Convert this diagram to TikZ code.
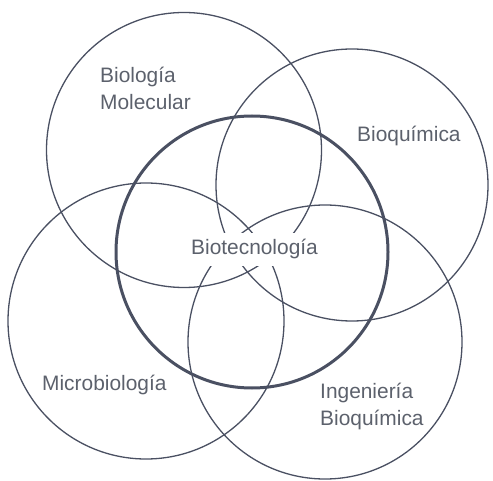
\documentclass[tikz,border=0pt]{standalone}
\usepackage{fontspec}
\setmainfont{Liberation Sans}
\definecolor{linec}{HTML}{4A5062}
\definecolor{textc}{HTML}{5C616C}
\begin{document}
\begin{tikzpicture}[x=1pt,y=-1pt,
  ring/.style={draw=linec, line width=1.3pt},
  mainring/.style={draw=linec, line width=3pt},
  lbl/.style={text=textc, font=\fontsize{20.9}{27}\selectfont, inner sep=0pt},
  midlbl/.style={text=textc, font=\fontsize{20.9}{27}\selectfont, fill=white, inner xsep=7pt, inner ysep=7pt}]
\useasboundingbox (0,0) rectangle (493,481);
\draw[ring] (184,150) circle (137.5);
\draw[ring] (352,185) circle (136);
\draw[ring] (146,321) circle (138);
\draw[ring] (325,342) circle (137);
\draw[mainring] (252,252) circle (136);
\node[lbl, align=left, anchor=north west] (bm) at (100,67) {Biología\\Molecular};
\node[lbl, anchor=base west] (bq) at (357,142) {Bioquímica};
\node[lbl, anchor=base west] (mb) at (42,390) {Microbiología};
\node[lbl, align=left, anchor=north west] (ib) at (320,383) {Ingeniería\\Bioquímica};
\node[midlbl, anchor=base] (bt) at (254.5,255) {Biotecnología};
\end{tikzpicture}
\end{document}
